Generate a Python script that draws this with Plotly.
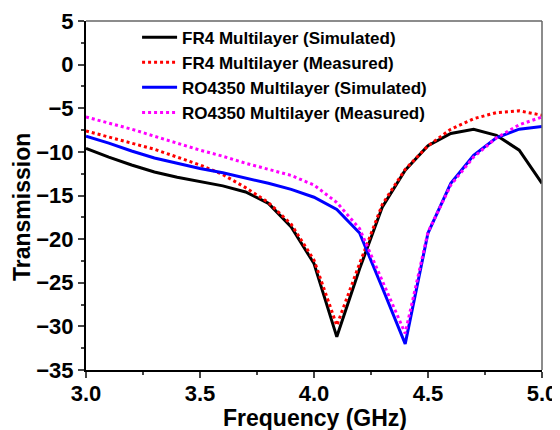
import plotly.graph_objects as go

freq = [3.0, 3.1, 3.2, 3.3, 3.4, 3.5, 3.6, 3.7, 3.8, 3.9, 4.0,
        4.1, 4.2, 4.3, 4.4, 4.5, 4.6, 4.7, 4.8, 4.9, 5.0]
fr4_sim = [-9.6, -10.6, -11.5, -12.3, -12.9, -13.4, -13.9, -14.6, -15.9, -18.6, -22.8,
           -31.2, -23.4, -16.3, -12.1, -9.3, -7.9, -7.4, -8.1, -9.8, -13.6]
fr4_meas = [-7.6, -8.3, -9.0, -9.7, -10.6, -11.5, -12.6, -14.1, -15.8, -18.3, -22.4,
            -29.9, -22.8, -16.0, -12.0, -9.3, -7.4, -6.2, -5.5, -5.3, -5.8]
ro_sim = [-8.2, -9.0, -9.9, -10.7, -11.3, -11.9, -12.4, -13.0, -13.6, -14.3, -15.2,
          -16.6, -19.3, -25.6, -32.0, -19.3, -13.6, -10.4, -8.4, -7.4, -7.1]
ro_meas = [-6.0, -6.7, -7.4, -8.2, -9.0, -9.8, -10.5, -11.3, -12.0, -12.7, -13.8,
           -15.8, -18.8, -24.8, -30.8, -19.2, -13.8, -10.6, -8.4, -6.9, -6.0]

names = ["FR4 Multilayer (Simulated)", "FR4 Multilayer (Measured)",
         "RO4350 Multilayer (Simulated)", "RO4350 Multilayer (Measured)"]
x_ticks = [3.0, 3.5, 4.0, 4.5, 5.0]
x_labels = ["3.0", "3.5", "4.0", "4.5", "5.0"]
y_ticks = [5, 0, -5, -10, -15, -20, -25, -30, -35]
x_title = "Frequency (GHz)"
y_title = "Transmission"

fig = go.Figure()
fig.add_trace(go.Scatter(x=freq, y=fr4_sim, name=names[0], mode="lines",
                         line=dict(color="black", width=3)))
fig.add_trace(go.Scatter(x=freq, y=fr4_meas, name=names[1], mode="lines",
                         line=dict(color="red", width=3, dash="dot")))
fig.add_trace(go.Scatter(x=freq, y=ro_sim, name=names[2], mode="lines",
                         line=dict(color="blue", width=3)))
fig.add_trace(go.Scatter(x=freq, y=ro_meas, name=names[3], mode="lines",
                         line=dict(color="magenta", width=3, dash="dot")))

font = "Liberation Sans, Arial, sans-serif"
# page body has an 8px margin, so the figure is 8px smaller and margins shifted
fig.update_layout(
    width=552, height=422,
    margin=dict(l=78, r=18, t=13, b=60),
    paper_bgcolor="white", plot_bgcolor="white",
    font=dict(family=font, color="black"),
    showlegend=True,
    legend=dict(x=0.112, y=1.004, xanchor="left", yanchor="top",
                bgcolor="rgba(0,0,0,0)", font=dict(size=17, family=font, weight="bold"),
                tracegroupgap=0, itemwidth=35),
    xaxis=dict(range=[3.0, 5.0], tickvals=x_ticks, ticktext=x_labels,
               ticks="outside", ticklen=6, tickwidth=1.5, showgrid=False, zeroline=False,
               showline=True, linecolor="black", linewidth=2, automargin=False,
               ticklabelstandoff=-3,
               minor=dict(ticks="outside", ticklen=3, tickwidth=1.5, dtick=0.25, showgrid=False),
               tickfont=dict(size=22, family=font, weight="bold")),
    yaxis=dict(range=[-35, 5], tickvals=y_ticks,
               ticks="outside", ticklen=6, tickwidth=1.5, showgrid=False, zeroline=False,
               showline=True, linecolor="black", linewidth=2, automargin=False,
               minor=dict(ticks="outside", ticklen=3, tickwidth=1.5, dtick=2.5, showgrid=False),
               tickfont=dict(size=22, family=font, weight="bold")),
)
# axis titles placed as annotations for exact positioning
fig.add_annotation(text=x_title, xref="paper", yref="paper", x=0.502, y=0,
                   xanchor="center", yanchor="middle", yshift=-48, showarrow=False,
                   font=dict(size=23, family=font, weight="bold", color="black"))
fig.add_annotation(text=y_title, xref="paper", yref="paper", x=0, y=0.467,
                   xanchor="center", yanchor="middle", xshift=-64, textangle=-90,
                   showarrow=False,
                   font=dict(size=23, family=font, weight="bold", color="black"))
# top and right frame lines
fig.add_shape(type="line", xref="paper", yref="paper", x0=0, x1=1, y0=1, y1=1,
              line=dict(color="#666666", width=1.5))
fig.add_shape(type="line", xref="paper", yref="paper", x0=1, x1=1, y0=0, y1=1,
              line=dict(color="#666666", width=1.5))

fig.write_html("out.html")
